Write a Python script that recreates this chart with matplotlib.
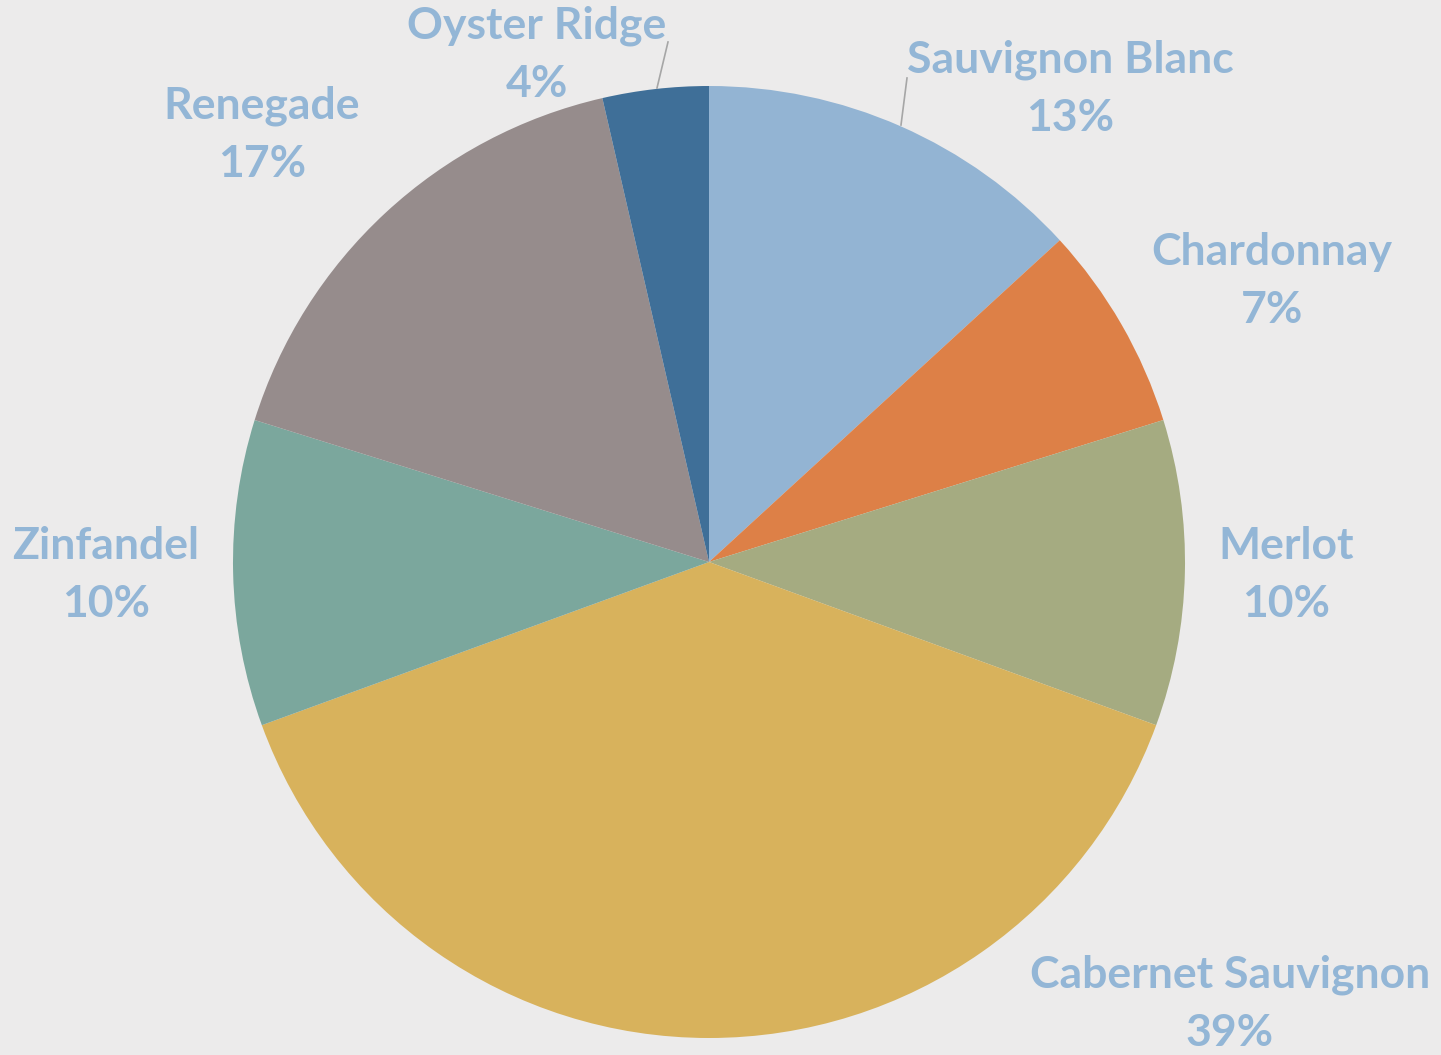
import matplotlib.pyplot as plt

# wine sales share
varieties = ["Sauvignon Blanc", "Chardonnay", "Merlot", "Cabernet Sauvignon",
             "Zinfandel", "Renegade", "Oyster Ridge"]
shares = [13.2, 7.0, 10.4, 38.9, 10.4, 16.6, 3.6]
colors = ["#93B4D3", "#DD8047", "#A5AB81", "#D8B25C", "#7BA79D", "#968C8C", "#3F6F98"]

# label centres in pixels of the 1441x1055 image (name line)
label_px = [(1070, 60), (1272, 252), (1286, 546), (1230, 975),
            (106, 546), (262, 106), (537, 26)]

cx, cy, r = 709, 562, 476

fig = plt.figure(figsize=(14.41, 10.55), dpi=100)
fig.patch.set_facecolor("#ECEBEB")
ax = fig.add_axes([(cx - r) / 1441, (1055 - cy - r) / 1055, 2 * r / 1441, 2 * r / 1055])
ax.set_facecolor("none")

ax.pie(shares, colors=colors, startangle=90, counterclock=False, radius=1,
       wedgeprops=dict(linewidth=0))
ax.set_xlim(-1, 1)
ax.set_ylim(-1, 1)
ax.axis("off")

def to_data(px, py):
    return (px - cx) / r, (cy - py) / r

txt_color = "#93B6D6"
for name, val, (px, py) in zip(varieties, shares, label_px):
    x, y = to_data(px, py)
    ax.text(x, y, name, ha="center", va="center", fontsize=32, fontweight="bold",
            family="Lato", color=txt_color, clip_on=False)
    x2, y2 = to_data(px, py + 58)
    ax.text(x2, y2, f"{round(val)}%", ha="center", va="center", fontsize=32,
            fontweight="bold", family="Lato", color=txt_color, clip_on=False)

# leader lines for the two top labels
for (x0, y0), (x1, y1) in [((901, 125), (907, 78)), ((657, 88), (668, 42))]:
    a, b = to_data(x0, y0)
    c, d = to_data(x1, y1)
    ax.plot([a, c], [b, d], color="#A6A6A6", linewidth=1.2, clip_on=False)

plt.savefig("out.png", dpi=100, facecolor=fig.get_facecolor())
